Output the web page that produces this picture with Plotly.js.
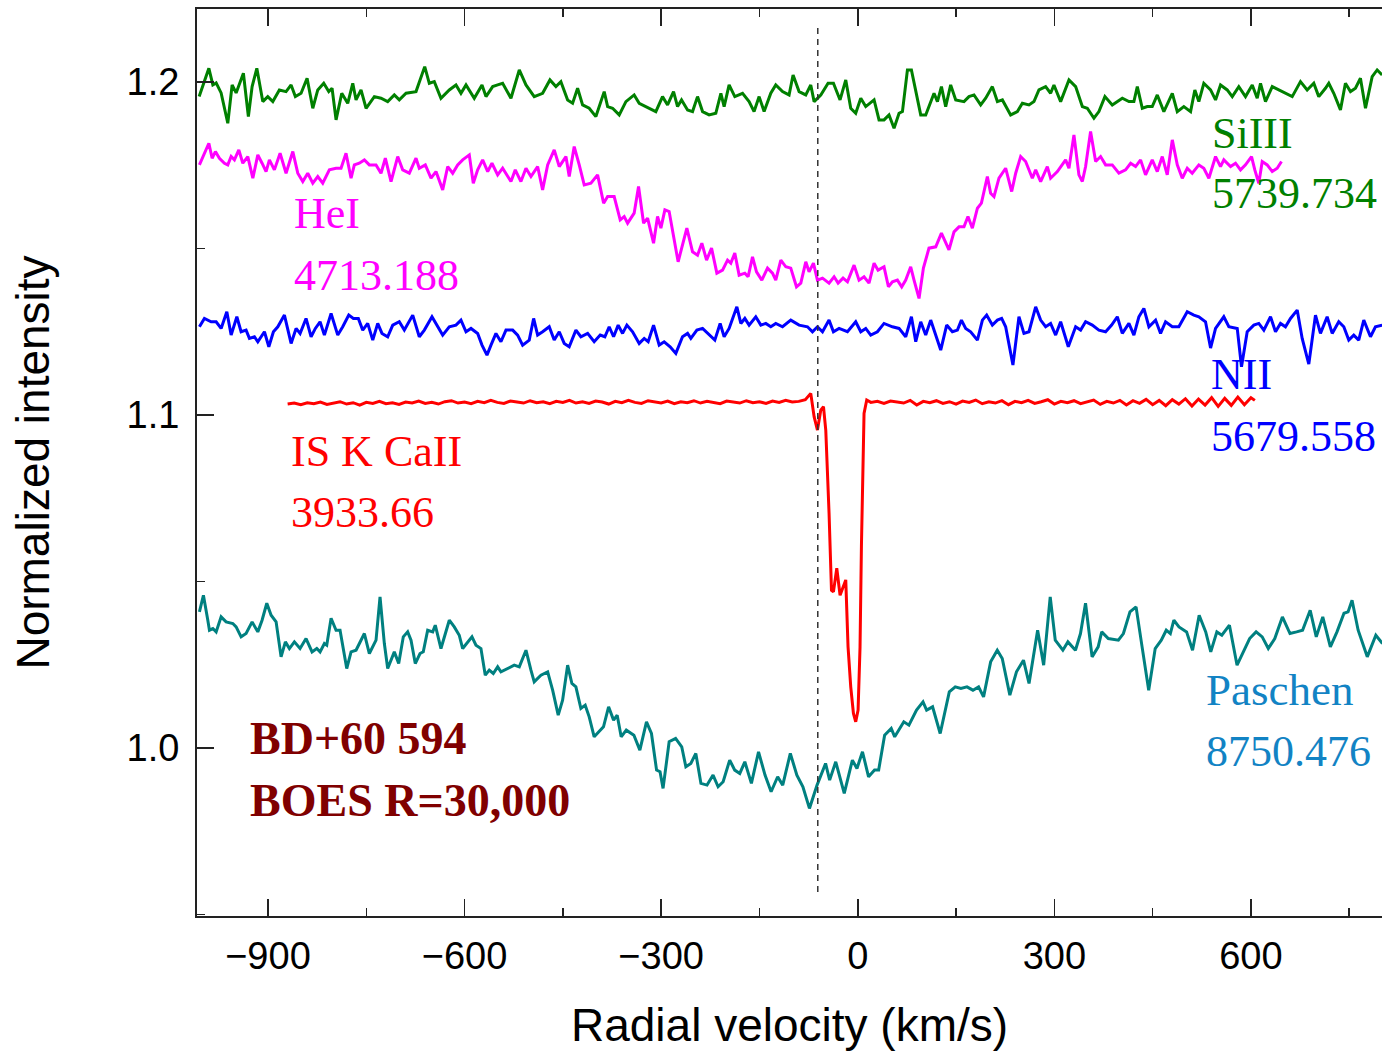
<!DOCTYPE html>
<html>
<head>
<meta charset="utf-8">
<script src="https://cdn.plot.ly/plotly-3.0.1.min.js"></script>
<style>html,body{margin:0;padding:0;background:#fff;}#chart{width:1382px;height:1051px;}</style>
</head>
<body>
<div id="chart"></div>
<script>
// SiIII 5739.734
const siV = [-1005.0,-990.2,-984.1,-979.1,-971.5,-961.3,-954.7,-948.6,-937.5,-929.9,-924.2,-917.0,-907.9,-900.3,-892.6,-882.6,-872.4,-864.7,-858.2,-849.5,-840.3,-831.6,-824.0,-814.9,-807.2,-802.2,-796.1,-787.4,-778.3,-770.6,-765.6,-758.0,-750.3,-737.7,-727.5,-717.3,-707.2,-699.6,-689.3,-674.1,-660.8,-653.8,-646.2,-636.0,-623.3,-613.1,-605.5,-597.8,-585.2,-573.4,-567.3,-557.1,-549.5,-541.9,-529.2,-516.5,-506.3,-493.7,-480.9,-469.7,-460.6,-453.0,-442.7,-435.1,-427.5,-419.9,-409.8,-399.6,
-386.9,-381.7,-374.1,-364.0,-353.8,-341.2,-333.5,-323.3,-308.1,-297.9,-290.2,-281.1,-275.0,-268.9,-259.7,-252.1,-244.5,-236.8,-226.8,-216.6,-208.9,-203.9,-196.3,-187.6,-175.8,-165.8,-158.2,-150.5,-142.9,-132.7,-125.1,-114.8,-104.8,-98.7,-89.5,-79.3,-71.7,-66.6,-56.4,-45.3,-37.1,-27.0,-18.3,-10.7,-3.1,4.6,12.2,24.9,32.5,40.1,47.7,55.4,63.0,68.2,75.8,81.9,96.1,103.7,116.4,121.6,127.7,134.2,141.8,149.5,162.1,169.7,177.4,187.6,195.2,
205.4,213.1,220.7,233.3,243.6,251.2,261.3,268.9,276.5,286.7,294.3,299.4,309.6,322.3,332.5,342.7,350.3,360.4,368.0,377.2,388.4,403.7,413.8,421.4,426.6,434.2,441.8,449.4,457.1,467.1,480.0,487.6,497.6,507.9,514.4,520.5,528.1,538.4,546.0,553.6,563.8,571.5,581.5,591.7,602.0,609.6,614.6,622.2,632.5,642.5,652.7,663.0,675.6,685.8,695.9,703.5,713.7,718.8,726.4,736.6,744.2,751.9,759.5,767.1,774.8,785.0,792.6,800.2];
const siI = [1.1956,1.2041,1.1991,1.1997,1.1967,1.1876,1.1991,1.1967,1.2026,1.1896,1.1986,1.2041,1.1941,1.1956,1.1941,1.1976,1.1971,1.1991,1.1956,1.1966,1.2011,1.1921,1.1976,1.1996,1.1971,1.1981,1.1886,1.1966,1.1936,1.1996,1.1946,1.1976,1.1921,1.1956,1.1951,1.1941,1.1961,1.1946,1.1966,1.1971,1.2046,1.1996,1.2001,1.1951,1.1976,1.1991,1.1966,1.1991,1.1951,1.1991,1.1956,1.1986,1.1991,1.1996,1.1951,1.2036,1.1991,1.1956,1.1966,1.2006,1.1986,1.2001,1.1946,1.1936,1.1981,1.1931,1.1921,1.1896,
1.1971,1.1926,1.1921,1.1901,1.1941,1.1961,1.1936,1.1926,1.1911,1.1956,1.1931,1.1971,1.1926,1.1946,1.1916,1.1911,1.1956,1.1911,1.1901,1.1906,1.1966,1.1926,1.1991,1.1956,1.1966,1.1941,1.1911,1.1956,1.1911,1.1966,1.1991,1.1971,1.1961,1.2021,1.1971,1.1961,1.1991,1.1941,1.1961,1.1996,1.1996,1.1946,1.2006,1.1921,1.1906,1.1951,1.1926,1.1946,1.1886,1.1886,1.1901,1.1861,1.1906,1.1911,1.2036,1.2036,1.1901,1.1901,1.1966,1.1941,1.1986,1.1926,1.1991,1.1946,1.1941,1.1956,1.1961,1.1931,1.1951,
1.1986,1.1941,1.1946,1.1901,1.1911,1.1936,1.1931,1.1941,1.1976,1.1986,1.1966,1.1991,1.1941,1.2006,1.1986,1.1926,1.1921,1.1891,1.1911,1.1956,1.1931,1.1951,1.1941,1.1941,1.1986,1.1921,1.1926,1.1926,1.1961,1.1911,1.1966,1.1911,1.1926,1.1911,1.1976,1.1941,1.1996,1.1976,1.1946,1.1991,1.1976,1.1956,1.1986,1.1956,1.1991,1.1951,1.1996,1.1941,1.1986,1.1976,1.1966,1.1956,1.2001,1.1976,1.1996,1.1956,1.1981,1.1996,1.1966,1.1916,1.1996,1.1971,1.1981,1.2011,1.1921,1.2016,1.2036,1.2021];

// HeI 4713.188
const heV = [-1004.6,-990.2,-985.2,-980.2,-974.1,-966.4,-961.3,-956.2,-951.2,-944.5,-938.4,-930.8,-923.1,-915.5,-909.0,-902.9,-897.8,-890.2,-881.5,-872.4,-862.1,-854.5,-846.9,-839.3,-831.6,-824.0,-816.4,-806.3,-796.1,-788.5,-780.9,-773.2,-768.2,-760.6,-752.9,-745.3,-735.1,-727.5,-720.9,-712.2,-702.0,-694.4,-684.3,-674.1,-669.1,-659.9,-651.2,-643.6,-633.4,-625.7,-618.1,-610.5,-602.9,-592.8,-586.7,-580.0,-572.4,-564.7,-558.2,-549.5,-541.9,-529.2,-522.6,-514.0,-506.3,-498.7,-488.5,-480.9,-473.2,-463.2,-455.5,-445.3,-440.3,-432.7,-425.0,-417.4,-407.2,
-397.0,-387.8,-381.7,-371.7,-362.5,-356.4,-351.2,-341.2,-334.5,-326.8,-320.7,-311.6,-305.5,-300.4,-294.3,-287.8,-274.1,-260.8,-252.1,-244.5,-237.9,-230.7,-223.1,-215.0,-206.3,-198.7,-193.7,-187.6,-181.0,-172.3,-167.3,-160.6,-154.5,-146.4,-137.7,-130.1,-125.1,-117.4,-109.8,-102.2,-93.5,-86.9,-79.3,-74.3,-67.6,-61.5,-53.8,-43.8,-36.1,-30.0,-22.4,-15.7,-5.6,2.0,9.6,17.2,24.9,31.0,40.1,46.8,52.9,60.5,67.1,73.2,80.8,85.9,93.5,100.2,108.7,119.0,127.7,139.2,146.9,154.5,162.1,168.2,174.9,182.6,188.7,197.8,202.8,
207.9,215.5,225.7,234.9,241.0,248.6,256.2,266.4,271.5,279.1,289.3,294.3,304.6,317.2,322.3,329.9,337.5,342.7,347.7,355.3,363.0,370.6,378.2,388.4,398.5,408.7,416.4,424.0,431.6,439.2,449.4,457.1,464.7,472.3,480.0,487.6,495.2,502.8,510.4,520.5,528.1,535.8,546.0,553.6,558.6,568.9,576.5,584.1,591.7,600.9,605.9,612.0,617.2,624.8,632.5,640.1,646.6];
const heI = [1.1751,1.1816,1.1771,1.1791,1.1771,1.1756,1.1751,1.1776,1.1766,1.1796,1.1756,1.1776,1.1711,1.1781,1.1756,1.1731,1.1766,1.1736,1.1786,1.1726,1.1791,1.1726,1.1701,1.1726,1.1696,1.1716,1.1696,1.1736,1.1741,1.1741,1.1786,1.1711,1.1751,1.1756,1.1766,1.1751,1.1751,1.1726,1.1771,1.1701,1.1776,1.1736,1.1726,1.1771,1.1741,1.1751,1.1711,1.1731,1.1676,1.1746,1.1726,1.1751,1.1766,1.1781,1.1696,1.1736,1.1766,1.1731,1.1756,1.1721,1.1741,1.1701,1.1736,1.1701,1.1741,1.1716,1.1746,1.1676,1.1751,1.1796,1.1746,1.1776,1.1716,1.1806,1.1751,1.1691,1.1696,
1.1721,1.1636,1.1656,1.1656,1.1586,1.1596,1.1576,1.1606,1.1686,1.1576,1.1591,1.1516,1.1596,1.1561,1.1616,1.1611,1.1460,1.1561,1.1490,1.1480,1.1516,1.1465,1.1501,1.1426,1.1435,1.1465,1.1456,1.1486,1.1420,1.1426,1.1415,1.1475,1.1430,1.1405,1.1441,1.1426,1.1405,1.1465,1.1445,1.1441,1.1385,1.1396,1.1460,1.1430,1.1456,1.1405,1.1411,1.1396,1.1415,1.1396,1.1411,1.1400,1.1450,1.1405,1.1415,1.1396,1.1456,1.1435,1.1445,1.1385,1.1400,1.1405,1.1385,1.1405,1.1445,1.1405,1.1350,1.1441,1.1501,1.1505,1.1546,1.1496,1.1550,1.1565,1.1565,1.1596,1.1561,1.1621,1.1636,1.1716,1.1666,
1.1656,1.1711,1.1741,1.1671,1.1726,1.1776,1.1761,1.1711,1.1736,1.1701,1.1746,1.1711,1.1731,1.1766,1.1741,1.1841,1.1721,1.1701,1.1746,1.1851,1.1761,1.1776,1.1751,1.1751,1.1726,1.1736,1.1756,1.1746,1.1766,1.1721,1.1766,1.1731,1.1776,1.1721,1.1826,1.1751,1.1711,1.1741,1.1726,1.1751,1.1741,1.1711,1.1776,1.1746,1.1766,1.1746,1.1756,1.1736,1.1751,1.1776,1.1736,1.1696,1.1761,1.1751,1.1731,1.1741,1.1761];

// NII 5679.558
const nV = [-1004.6,-997.0,-986.7,-979.1,-971.5,-962.8,-956.2,-947.5,-941.0,-933.4,-928.3,-920.7,-915.5,-905.4,-898.7,-891.7,-885.0,-874.9,-864.7,-857.1,-851.0,-841.9,-834.2,-827.7,-820.5,-813.9,-803.7,-793.5,-785.9,-776.7,-769.7,-762.1,-755.4,-747.8,-740.1,-732.5,-726.0,-717.3,-709.6,-699.6,-691.9,-679.1,-669.1,-661.4,-649.7,-641.0,-633.4,-623.3,-613.1,-605.5,-597.8,-590.2,-580.0,-573.4,-565.8,-559.7,-552.1,-544.5,-536.8,-526.6,-519.0,-511.4,-501.3,-494.6,-488.5,-480.9,-470.8,-463.2,-455.5,-447.9,-440.3,-430.1,-422.5,-412.2,-402.2,
-393.0,-385.9,-379.3,-372.6,-365.6,-358.9,-352.3,-343.6,-333.5,-325.9,-319.8,-311.6,-303.0,-295.4,-286.3,-277.6,-267.4,-259.7,-254.7,-245.5,-236.8,-226.8,-218.1,-210.0,-203.9,-196.3,-184.5,-178.4,-172.3,-165.8,-155.6,-147.9,-140.3,-132.7,-125.1,-114.8,-102.2,-89.5,-76.7,-69.1,-61.5,-53.8,-43.8,-37.1,-28.5,-15.7,-3.1,4.6,12.2,19.8,30.0,40.1,52.9,63.0,73.2,81.9,88.5,96.1,103.7,111.3,119.0,126.6,135.7,144.4,152.1,158.2,164.7,172.3,182.6,190.2,196.7,
205.4,213.1,219.6,225.7,236.8,246.0,253.6,261.3,271.5,279.1,286.7,294.3,302.0,309.6,321.3,332.5,340.1,347.7,357.9,368.0,378.2,387.4,396.1,403.7,413.8,421.4,429.0,436.6,444.3,454.5,462.1,469.7,480.0,490.0,502.8,512.9,520.5,530.7,538.4,546.0,558.6,566.3,579.1,585.6,594.3,604.4,612.0,619.7,629.9,637.5,645.1,652.7,660.4,670.6,678.2,688.3,698.5,706.1,716.3,724.0,734.0,741.7,749.3,756.9,764.5,772.2,782.4,790.0,800.2];
const nI = [1.1265,1.1290,1.1280,1.1280,1.1260,1.1310,1.1240,1.1295,1.1250,1.1255,1.1230,1.1235,1.1220,1.1250,1.1205,1.1250,1.1265,1.1300,1.1215,1.1260,1.1245,1.1290,1.1235,1.1260,1.1280,1.1240,1.1305,1.1240,1.1265,1.1300,1.1290,1.1290,1.1255,1.1275,1.1225,1.1275,1.1245,1.1235,1.1270,1.1280,1.1255,1.1300,1.1235,1.1255,1.1295,1.1265,1.1240,1.1265,1.1270,1.1285,1.1250,1.1260,1.1245,1.1210,1.1180,1.1210,1.1245,1.1220,1.1255,1.1255,1.1240,1.1210,1.1225,1.1290,1.1240,1.1250,1.1265,1.1225,1.1250,1.1215,1.1205,1.1255,1.1235,1.1245,1.1220,
1.1240,1.1235,1.1265,1.1235,1.1270,1.1245,1.1270,1.1250,1.1215,1.1230,1.1220,1.1270,1.1210,1.1220,1.1205,1.1185,1.1235,1.1245,1.1230,1.1255,1.1260,1.1240,1.1225,1.1275,1.1235,1.1260,1.1325,1.1275,1.1290,1.1270,1.1295,1.1270,1.1275,1.1265,1.1275,1.1265,1.1285,1.1270,1.1265,1.1250,1.1265,1.1250,1.1285,1.1250,1.1260,1.1250,1.1280,1.1250,1.1260,1.1240,1.1250,1.1275,1.1265,1.1260,1.1235,1.1295,1.1220,1.1280,1.1240,1.1285,1.1240,1.1195,1.1270,1.1250,1.1255,1.1285,1.1260,1.1250,1.1225,1.1285,1.1300,
1.1270,1.1285,1.1290,1.1265,1.1150,1.1295,1.1245,1.1250,1.1325,1.1285,1.1265,1.1275,1.1240,1.1280,1.1205,1.1265,1.1255,1.1280,1.1270,1.1255,1.1250,1.1270,1.1295,1.1245,1.1275,1.1240,1.1295,1.1320,1.1265,1.1285,1.1245,1.1280,1.1265,1.1265,1.1310,1.1300,1.1295,1.1280,1.1201,1.1260,1.1295,1.1265,1.1260,1.1145,1.1250,1.1270,1.1275,1.1255,1.1295,1.1250,1.1275,1.1265,1.1290,1.1315,1.1230,1.1153,1.1300,1.1245,1.1295,1.1245,1.1280,1.1265,1.1225,1.1240,1.1225,1.1285,1.1235,1.1265,1.1270];

// IS K CaII 3933.66
const caV = [-870,-860,-850,-840,-830,-820,-810,-800,-790,-780,-770,-760,-750,-740,-730,-720,-710,-700,-690,-680,-670,-660,-650,-640,-630,-620,-610,-600,-590,-580,-570,-560,-550,-540,-530,-520,-510,-500,-490,-480,-470,-460,-450,-440,-430,-420,-410,-400,-390,-380,-370,-360,-350,-340,-330,-320,-310,-300,-290,-280,-270,-260,-250,-240,-230,-220,-210,-200,-190,-180,-170,-160,-150,-140,-130,-120,-110,-100,-90,-80,
-71.7,-66.6,-61.5,-56.4,-52.3,-48.8,-43.8,-40.1,-37.1,-32.0,-27.0,-22.9,-18.3,-14.8,-10.7,-6.6,-3.1,0.5,3.5,5.6,7.6,9.6,13.7,
20,30,40,50,60,70,80,90,100,110,120,130,140,150,160,170,180,190,200,210,220,230,240,250,260,270,280,290,300,310,320,330,340,350,360,370,380,390,400,410,420,430,440,450,460,470,480,490,500,510,520,530,540,550,560,570,580,590,600,606];
const caI = [1.1033,1.1036,1.1031,1.1037,1.1034,1.1039,1.1032,1.1036,1.1040,1.1033,1.1037,1.1030,1.1038,1.1035,1.1041,1.1034,1.1037,1.1032,1.1039,1.1036,1.1042,1.1035,1.1038,1.1033,1.1040,1.1043,1.1036,1.1039,1.1034,1.1041,1.1037,1.1044,1.1038,1.1035,1.1042,1.1039,1.1036,1.1043,1.1037,1.1040,1.1034,1.1041,1.1038,1.1044,1.1036,1.1040,1.1035,1.1042,1.1039,1.1033,1.1041,1.1037,1.1044,1.1038,1.1035,1.1043,1.1039,1.1036,1.1042,1.1034,1.1040,1.1037,1.1043,1.1036,1.1041,1.1038,1.1034,1.1042,1.1039,1.1036,1.1043,1.1037,1.1040,1.1035,1.1042,1.1038,1.1044,1.1039,1.1041,1.1046,
1.1065,1.0995,1.0955,1.1015,1.1025,1.0955,1.0706,1.0474,1.0469,1.0540,1.0459,1.0480,1.0505,1.0304,1.0184,1.0104,1.0079,1.0114,1.0304,1.0605,1.0855,1.1005,1.1045,
1.1038,1.1041,1.1035,1.1042,1.1039,1.1036,1.1044,1.1030,1.1041,1.1037,1.1043,1.1035,1.1040,1.1033,1.1042,1.1038,1.1045,1.1034,1.1040,1.1036,1.1043,1.1031,1.1041,1.1037,1.1044,1.1035,1.1040,1.1046,1.1033,1.1041,1.1037,1.1043,1.1034,1.1040,1.1045,1.1032,1.1041,1.1036,1.1044,1.1030,1.1043,1.1035,1.1047,1.1031,1.1044,1.1028,1.1046,1.1033,1.1049,1.1027,1.1048,1.1030,1.1052,1.1026,1.1050,1.1029,1.1054,1.1031,1.1052,1.1044];

// Paschen 8750.476
const paV = [-1004.6,-998.5,-991.8,-989.3,-984.1,-979.1,-971.5,-963.9,-953.6,-948.6,-941.0,-933.4,-924.2,-915.5,-909.0,-901.8,-895.2,-887.6,-880.0,-873.4,-867.3,-859.7,-851.0,-841.9,-832.7,-825.5,-820.5,-813.9,-810.3,-803.7,-796.1,-790.0,-779.8,-773.2,-765.6,-760.6,-752.9,-745.3,-735.1,-729.0,-722.4,-717.3,-707.2,-700.5,-693.5,-686.8,-681.7,-675.2,-668.0,-663.0,-656.3,-648.6,-644.7,-636.0,-623.3,-615.7,-608.1,-602.9,-595.2,-588.7,-582.6,-575.0,-568.4,-562.3,-556.2,-549.5,-544.5,-534.2,-524.2,-516.5,-506.3,-498.7,-493.7,-483.5,-473.2,-465.6,-457.1,-450.4,-442.7,-436.2,-430.1,-422.5,-415.9,-409.8,-402.2,
-388.0,-380.2,-372.6,-367.1,-361.0,-353.2,-341.6,-332.5,-322.4,-314.8,-307.0,-301.7,-297.1,-287.8,-277.9,-268.6,-262.3,-254.7,-247.1,-239.3,-230.0,-220.8,-213.1,-205.4,-195.4,-187.7,-180.0,-172.3,-162.3,-151.4,-141.5,-132.2,-122.2,-114.5,-102.9,-92.9,-83.7,-73.7,-62.1,-49.1,-42.9,-33.6,-20.6,-8.2,-1.2,7.2,16.5,25.6,31.9,41.0,51.1,56.4,70.3,78.1,89.7,99.6,105.1,114.2,125.8,139.7,148.8,157.4,166.7,175.8,184.4,192.0,202.8,212.9,220.5,232.1,242.2,252.9,261.4,274.5,283.7,293.7,301.4,313.0,320.7,332.2,339.9,347.6,357.6,366.9,372.3,382.3,397.7,405.4,415.4,424.7,433.9,444.0,453.9,463.2,470.8,477.0,482.4,490.2,501.8,510.9,521.0,531.0,538.7,548.0,555.6,567.2,578.8,590.2,598.0,607.9,617.2,626.5,636.4,648.0,659.6,669.7,678.8,690.4,699.7,709.6,721.2,731.3,742.0,748.2,754.3,763.6,777.5,790.6,800.7];
const paI = [1.0409,1.0459,1.0384,1.0354,1.0359,1.0349,1.0394,1.0379,1.0374,1.0364,1.0334,1.0344,1.0379,1.0349,1.0384,1.0435,1.0399,1.0379,1.0274,1.0319,1.0299,1.0319,1.0299,1.0329,1.0289,1.0299,1.0289,1.0314,1.0309,1.0390,1.0354,1.0354,1.0239,1.0289,1.0294,1.0314,1.0344,1.0284,1.0324,1.0454,1.0314,1.0239,1.0289,1.0254,1.0334,1.0349,1.0324,1.0254,1.0284,1.0289,1.0354,1.0349,1.0369,1.0299,1.0384,1.0364,1.0339,1.0299,1.0319,1.0334,1.0309,1.0299,1.0219,1.0234,1.0224,1.0244,1.0229,1.0239,1.0249,1.0244,1.0294,1.0234,1.0199,1.0219,1.0229,1.0174,1.0099,1.0144,1.0249,1.0194,1.0184,1.0119,1.0129,1.0094,1.0034,
1.0064,1.0124,1.0084,1.0099,1.0034,1.0054,1.0039,0.9994,1.0079,1.0044,0.9934,0.9929,0.9879,1.0019,1.0029,1.0004,0.9944,0.9954,0.9984,0.9894,0.9889,0.9919,0.9884,0.9899,0.9964,0.9934,0.9924,0.9959,0.9894,0.9989,0.9919,0.9869,0.9914,0.9889,0.9984,0.9919,0.9884,0.9819,0.9889,0.9954,0.9904,0.9959,0.9864,0.9964,0.9939,0.9989,0.9914,0.9934,0.9934,1.0039,1.0059,1.0034,1.0079,1.0069,1.0114,1.0139,1.0114,1.0124,1.0044,1.0169,1.0184,1.0179,1.0184,1.0174,1.0184,1.0154,1.0259,1.0294,1.0269,1.0159,1.0229,1.0264,1.0194,1.0354,1.0249,1.0454,1.0324,1.0294,1.0319,1.0294,1.0344,1.0435,1.0274,1.0304,1.0349,1.0329,1.0324,1.0344,1.0409,1.0424,1.0304,1.0174,1.0299,1.0324,1.0354,1.0344,1.0384,1.0364,1.0349,1.0294,1.0399,1.0349,1.0289,1.0349,1.0339,1.0369,1.0249,1.0294,1.0329,1.0349,1.0334,1.0299,1.0329,1.0394,1.0344,1.0349,1.0354,1.0414,1.0334,1.0394,1.0304,1.0349,1.0405,1.0409,1.0444,1.0354,1.0274,1.0339,1.0314];

// reference velocity marker (dotted)
const refV = [-61, -61];
const refI = [1.2162, 0.9553];

const serif = 'Liberation Serif, Times New Roman, serif';
const sans = 'Liberation Sans, Arial, sans-serif';

function line(x, y, color) {
  return {x: x, y: y, type: 'scatter', mode: 'lines', line: {color: color, width: 3}, hoverinfo: 'skip', showlegend: false};
}

const traces = [
  line(paV, paI, '#008080'),
  line(caV, caI, '#ff0000'),
  line(nV, nI, '#0000ff'),
  line(heV, heI, '#ff00ff'),
  line(siV, siI, '#008000'),
  {x: refV, y: refI, type: 'scatter', mode: 'lines', line: {color: '#333333', width: 1.5, dash: '6px,5px'}, hoverinfo: 'skip', showlegend: false}
];

function ann(text, x, y, color, size, bold) {
  return {text: bold ? '<b>' + text + '</b>' : text, x: x, y: y, xref: 'x', yref: 'y', xanchor: 'left', yanchor: 'middle', showarrow: false,
    font: {family: serif, size: size, color: color}};
}

const annotations = [
  ann('SiIII', 537.5, 1.1845, '#008000', 44),
  ann('5739.734', 537.5, 1.1664, '#008000', 44),
  ann('HeI', -864.0, 1.1604, '#ff00ff', 44),
  ann('4713.188', -864.0, 1.1420, '#ff00ff', 44),
  ann('NII', 536.0, 1.1123, '#0000ff', 44),
  ann('5679.558', 536.0, 1.0935, '#0000ff', 44),
  ann('IS K CaII', -868.6, 1.0892, '#ff0000', 44),
  ann('3933.66', -868.6, 1.0707, '#ff0000', 44),
  ann('Paschen', 528.4, 1.0174, '#1283c4', 45),
  ann('8750.476', 528.4, 0.9991, '#1283c4', 44),
  ann('BD+60 594', -931.1, 1.0029, '#800000', 46, true),
  ann('BOES R=30,000', -931.1, 0.9844, '#800000', 46, true)
];

const axisCommon = {
  showline: true, linecolor: '#222', linewidth: 2,
  ticks: 'inside', ticklen: 17, tickwidth: 1.5, tickcolor: '#222',
  showgrid: false, zeroline: false,
  tickfont: {family: sans, size: 38, color: '#000'}
};

const layout = {
  width: 1382, height: 1051,
  margin: {l: 197, r: 0, t: 9, b: 135},
  paper_bgcolor: '#ffffff', plot_bgcolor: '#ffffff',
  xaxis: Object.assign({}, axisCommon, {
    range: [-1008.3, 800], tick0: 0, dtick: 300, mirror: 'ticks', ticklabelstandoff: 5,
    minor: {dtick: 150, tick0: 0, ticks: 'inside', ticklen: 8, tickwidth: 1.5, tickcolor: '#222'},
    title: {text: 'Radial velocity (km/s)', font: {family: sans, size: 46, color: '#000'}, standoff: 36}
  }),
  yaxis: Object.assign({}, axisCommon, {
    range: [0.9496, 1.2219], tick0: 0, dtick: 0.1, tickformat: '.1f', ticklabelstandoff: 8,
    minor: {dtick: 0.05, tick0: 0, ticks: 'inside', ticklen: 8, tickwidth: 1.5, tickcolor: '#222'},
    title: {text: 'Normalized intensity', font: {family: sans, size: 46, color: '#000'}, standoff: 62}
  }),
  annotations: annotations
};

Plotly.newPlot('chart', traces, layout, {displayModeBar: false, staticPlot: true});
</script>
</body>
</html>
